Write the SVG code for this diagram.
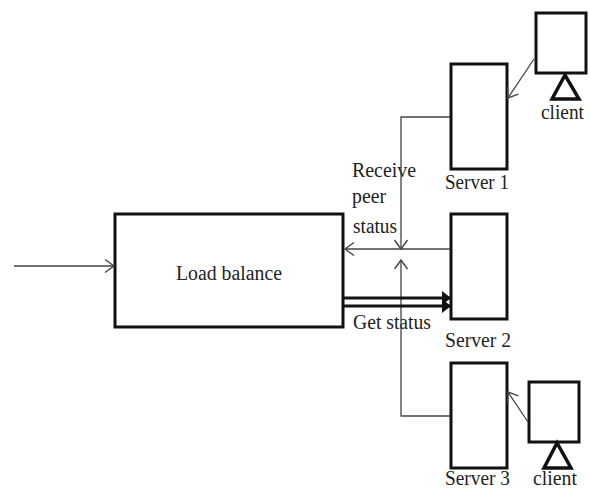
<svg xmlns="http://www.w3.org/2000/svg" width="590" height="489" viewBox="0 0 590 489">
<defs>
<marker id="open" markerUnits="userSpaceOnUse" markerWidth="14" markerHeight="16" refX="10" refY="8" orient="auto"><path d="M1 1.5L10 8L1 14.500" fill="none" stroke="#444" stroke-width="1.400"/></marker>
<marker id="bold" markerUnits="userSpaceOnUse" markerWidth="10" markerHeight="16" refX="9" refY="8" orient="auto"><path d="M0 1L9 8L0 15Z" fill="#111"/></marker>
</defs>
<style>
.box{fill:#fff;stroke:#111;stroke-width:3}
.tri{fill:#fff;stroke:#111;stroke-width:3.500}
.line{fill:none;stroke:#444;stroke-width:1.300}
.thick{fill:none;stroke:#111;stroke-width:3}
text{font-family:"Liberation Serif","Times New Roman",serif;font-size:20px;fill:#222}
</style>
<rect width="590" height="489" fill="#fff"/>
<g id="load-balance"><rect class="box" x="115" y="214" width="228" height="113"/><text x="176" y="280" textLength="106" lengthAdjust="spacingAndGlyphs">Load balance</text></g>
<g id="server-1"><rect class="box" x="451" y="64" width="56" height="105"/><text x="445" y="189" textLength="64" lengthAdjust="spacingAndGlyphs">Server 1</text></g>
<g id="server-2"><rect class="box" x="451" y="214" width="56" height="105"/><text x="445" y="347" textLength="66" lengthAdjust="spacingAndGlyphs">Server 2</text></g>
<g id="server-3"><rect class="box" x="451" y="363" width="56" height="105"/><text x="445" y="485" textLength="65" lengthAdjust="spacingAndGlyphs">Server 3</text></g>
<g id="client-1"><rect class="box" x="536" y="13" width="50" height="60"/><path class="tri" d="M565 75L552 99H579Z"/><text x="541" y="119" textLength="43" lengthAdjust="spacingAndGlyphs">client</text></g>
<g id="client-2"><rect class="box" x="529" y="382" width="50" height="60"/><path class="tri" d="M557 443L544 468H571Z"/><text x="533" y="485" textLength="44" lengthAdjust="spacingAndGlyphs">client</text></g>
<g id="labels"><text x="352" y="177" textLength="64" lengthAdjust="spacingAndGlyphs">Receive</text><text x="352" y="203" textLength="34" lengthAdjust="spacingAndGlyphs">peer</text><text x="353" y="233" textLength="44" lengthAdjust="spacingAndGlyphs">status</text><text x="353" y="329" textLength="78" lengthAdjust="spacingAndGlyphs">Get status</text></g>
<g id="connectors">
<path class="line" marker-end="url(#open)" d="M14 266H114"/>
<path class="line" marker-end="url(#open)" d="M534 59L508 98"/>
<path class="line" marker-end="url(#open)" d="M528 422L508 392"/>
<path class="line" marker-end="url(#open)" d="M450 117H401V249"/>
<path class="line" marker-end="url(#open)" d="M450 249H345"/>
<path class="line" marker-end="url(#open)" d="M450 416H401V260"/>
<path class="thick" marker-end="url(#bold)" d="M344 298H451"/>
<path class="thick" marker-end="url(#bold)" d="M344 306H451"/>
</g>
</svg>
